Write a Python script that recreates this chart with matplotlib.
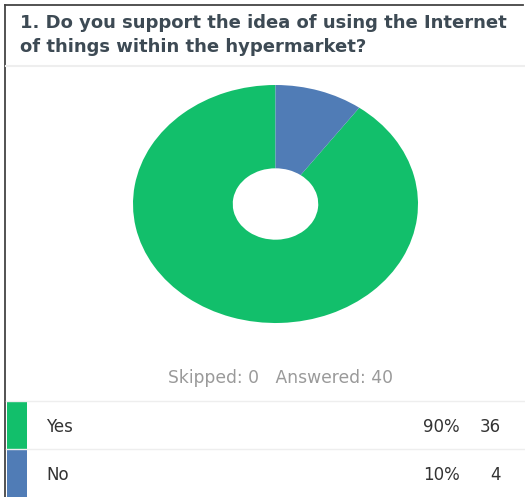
import matplotlib
matplotlib.use("Agg")
from matplotlib import pyplot as plt
from matplotlib.lines import Line2D
from matplotlib.patches import Rectangle

title = "1. Do you support the idea of using the Internet\nof things within the hypermarket?"
labels = ["Yes", "No"]
counts = [36, 4]
percents = ["90%", "10%"]
colors = ["#12bf6b", "#507cb6"]
skipped = 0
answered = 40

W, H = 525, 497
fig = plt.figure(figsize=(W / 100, H / 100), dpi=100)
fig.patch.set_facecolor("white")


def fx(px):
    return px / W


def fy(py):
    return 1 - py / H


# outer frame (left + top)
fig.add_artist(Line2D([fx(5), fx(5)], [fy(5), 0], color="#444444", lw=1.3))
fig.add_artist(Line2D([fx(5), fx(523)], [fy(5), fy(5)], color="#444444", lw=1.3))

# title
fig.text(fx(20), fy(35), title, fontsize=13, fontweight="bold", color="#3d4a54",
         va="center", ha="left", linespacing=1.4, family="DejaVu Sans")
fig.add_artist(Line2D([fx(6), 1], [fy(66), fy(66)], color="#eeeeee", lw=1.5))

# donut
ax = fig.add_axes([fx(133), fy(323), fx(418) - fx(133), (323 - 85) / H])
ax.pie(counts, colors=colors, startangle=90, radius=1,
       wedgeprops=dict(width=0.7, linewidth=0))
ax.set_xlim(-1, 1)
ax.set_ylim(-1, 1)
ax.set_aspect("auto")
ax.axis("off")

fig.text(fx(280), fy(378), "Skipped: {}   Answered: {}".format(skipped, answered),
         fontsize=12.3, color="#9a9a9a", ha="center", va="center", family="DejaVu Sans")

# table rows
row_top = [401, 449]
row_h = 48
for i in range(len(labels)):
    y0 = row_top[i]
    fig.add_artist(Line2D([fx(6), 1], [fy(y0), fy(y0)], color="#eeeeee", lw=1))
    fig.add_artist(Rectangle((fx(7), fy(y0 + row_h)), fx(27) - fx(7), row_h / H,
                             facecolor=colors[i], edgecolor="none"))
    yc = fy(y0 + 26)
    fig.text(fx(46), yc, labels[i], fontsize=12, color="#333333", va="center",
             ha="left", family="DejaVu Sans")
    fig.text(fx(460), yc, percents[i], fontsize=12, color="#333333", va="center",
             ha="right", family="DejaVu Sans")
    fig.text(fx(501), yc, str(counts[i]), fontsize=12, color="#333333", va="center",
             ha="right", family="DejaVu Sans")

plt.savefig("out.png", dpi=100)
